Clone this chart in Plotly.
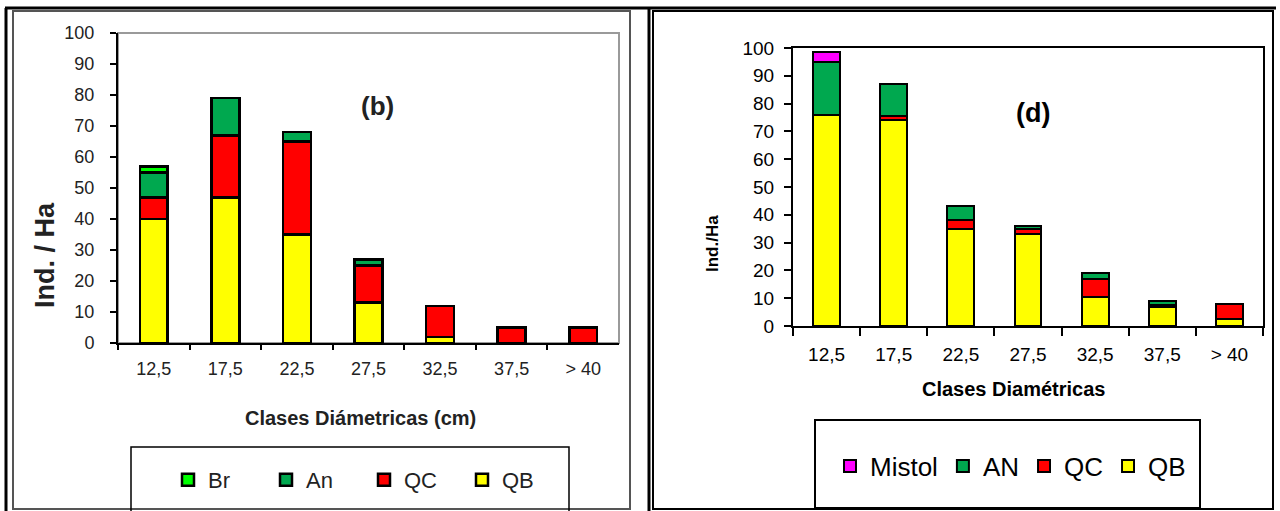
import plotly.graph_objects as go

# ---------------- data ----------------
categories = ["12,5", "17,5", "22,5", "27,5", "32,5", "37,5", "> 40"]

# panel (b)
b_QB = [40, 47, 35, 13, 2, 0, 0]
b_QC = [7, 20, 30, 12, 10, 5, 5]
b_An = [8, 12, 3, 2, 0, 0, 0]
b_Br = [2, 0, 0, 0, 0, 0, 0]

# panel (d)
d_QB = [76, 74, 35, 33, 10.5, 7, 2.5]
d_QC = [0, 1.5, 3, 2, 6.5, 0.5, 5.5]
d_AN = [19, 11.5, 5, 1, 2, 1.5, 0]
d_Mistol = [3.5, 0, 0, 0, 0, 0, 0]

y_ticks = list(range(0, 101, 10))

# ---------------- helpers ----------------
W, H = 1280, 511


def fx(p):
    return p / W


def fy(p):
    return 1 - p / H


YELLOW = "#FFFF00"
RED = "#FF0000"
GREEN = "#00A84F"
LIME = "#00FF00"
MAGENTA = "#FF00FF"
FONT = "Liberation Sans, Arial, sans-serif"

fig = go.Figure()

left_series = [("QB", b_QB, YELLOW), ("QC", b_QC, RED), ("An", b_An, GREEN), ("Br", b_Br, LIME)]
for name, vals, col in left_series:
    fig.add_trace(go.Bar(
        x=categories, y=vals, name=name, xaxis="x", yaxis="y",
        marker=dict(color=col, line=dict(color="black", width=2.5)),
        width=0.39, legend="legend",
    ))

right_series = [("QB", d_QB, YELLOW), ("QC", d_QC, RED), ("AN", d_AN, GREEN), ("Mistol", d_Mistol, MAGENTA)]
for name, vals, col in right_series:
    fig.add_trace(go.Bar(
        x=categories, y=vals, name=name, xaxis="x2", yaxis="y2",
        marker=dict(color=col, line=dict(color="black", width=2)),
        width=0.4, legend="legend2",
    ))

axis_common = dict(showgrid=False, zeroline=False, showline=True, linecolor="black", linewidth=2,
                   ticks="outside", tickcolor="black", tickwidth=2, automargin=False)

fig.update_layout(
    width=W, height=H, autosize=False,
    margin=dict(l=0, r=0, t=0, b=0, pad=0, autoexpand=False),
    paper_bgcolor="white", plot_bgcolor="white",
    barmode="stack",
    font=dict(family=FONT, color="#222"),
    xaxis=dict(domain=[fx(118), fx(619)], anchor="y", type="category", range=[-0.5, 6.5],
               tickson="boundaries", ticklen=5, ticklabelstandoff=8,
               tickfont=dict(size=18, color="#222"), **axis_common),
    yaxis=dict(domain=[fy(343), fy(33)], anchor="x", range=[0, 100], tickvals=y_ticks,
               ticklen=6, ticklabelstandoff=12, tickfont=dict(size=18, color="#222"), **axis_common),
    xaxis2=dict(domain=[fx(793), fx(1263)], anchor="y2", type="category", range=[-0.5, 6.5],
                tickson="boundaries", ticklen=8, ticklabelstandoff=10, mirror=True,
                tickfont=dict(size=19, color="black"), **axis_common),
    yaxis2=dict(domain=[fy(326), fy(48)], anchor="x2", range=[0, 100], tickvals=y_ticks,
                ticklen=7, ticklabelstandoff=6, mirror=True,
                tickfont=dict(size=19, color="black"), **axis_common),
    legend=dict(orientation="h", traceorder="reversed", x=fx(168), y=fy(480),
                xanchor="left", yanchor="middle", bgcolor="rgba(0,0,0,0)", borderwidth=0,
                entrywidth=53, entrywidthmode="pixels",
                font=dict(size=22, color="#222", family=FONT)),
    legend2=dict(orientation="h", traceorder="reversed", x=fx(830), y=fy(466),
                 xanchor="left", yanchor="middle", bgcolor="rgba(0,0,0,0)", borderwidth=0,
                 font=dict(size=26, color="black", family=FONT)),
    showlegend=True,
)

shapes = [
    # plot-area border (left chart, grey)
    dict(type="rect", xref="x domain", yref="y domain", x0=0, x1=1, y0=0, y1=1,
         line=dict(color="#9a9a9a", width=2), layer="below"),
    # outer table frame
    dict(type="line", xref="paper", yref="paper", x0=fx(5), x1=fx(1276), y0=fy(8), y1=fy(8),
         line=dict(color="black", width=3)),
    dict(type="line", xref="paper", yref="paper", x0=fx(6), x1=fx(6), y0=fy(8), y1=fy(511),
         line=dict(color="black", width=3)),
    dict(type="line", xref="paper", yref="paper", x0=fx(649), x1=fx(649), y0=fy(8), y1=fy(511),
         line=dict(color="black", width=3)),
    # left chart-area frame
    dict(type="rect", xref="paper", yref="paper", x0=fx(13), x1=fx(630), y0=fy(509), y1=fy(11),
         line=dict(color="#555", width=2)),
    # right chart-area frame
    dict(type="rect", xref="paper", yref="paper", x0=fx(653), x1=fx(1273), y0=fy(509), y1=fy(11),
         line=dict(color="black", width=2)),
    # legend boxes
    dict(type="rect", xref="paper", yref="paper", x0=fx(131), x1=fx(569), y0=fy(520), y1=fy(447),
         line=dict(color="black", width=1.5)),
    dict(type="rect", xref="paper", yref="paper", x0=fx(815), x1=fx(1200), y0=fy(508), y1=fy(420),
         line=dict(color="black", width=2)),
]
fig.update_layout(shapes=shapes)

ann_common = dict(xref="paper", yref="paper", showarrow=False, xanchor="center", yanchor="middle")
annotations = [
    dict(text="<b>Ind. / Ha</b>", x=fx(45), y=fy(255), textangle=-90,
         font=dict(size=27, color="#222"), **ann_common),
    dict(text="<b>(b)</b>", x=fx(377), y=fy(106), font=dict(size=26, color="#222"), **ann_common),
    dict(text="<b>Clases Diámetricas (cm)</b>", x=fx(360), y=fy(418),
         font=dict(size=20, color="#222"), **ann_common),
    dict(text="<b>Ind./Ha</b>", x=fx(712), y=fy(244), textangle=-90,
         font=dict(size=17, color="black"), **ann_common),
    dict(text="<b>(d)</b>", x=fx(1033), y=fy(113), font=dict(size=27, color="black"), **ann_common),
    dict(text="<b>Clases Diamétricas</b>", x=fx(1013), y=fy(389),
         font=dict(size=20, color="black"), **ann_common),
]
fig.update_layout(annotations=annotations)

fig.write_html("out.html", config={"displayModeBar": False},
               post_script="document.body.style.margin='0';document.body.style.overflow='hidden';")
